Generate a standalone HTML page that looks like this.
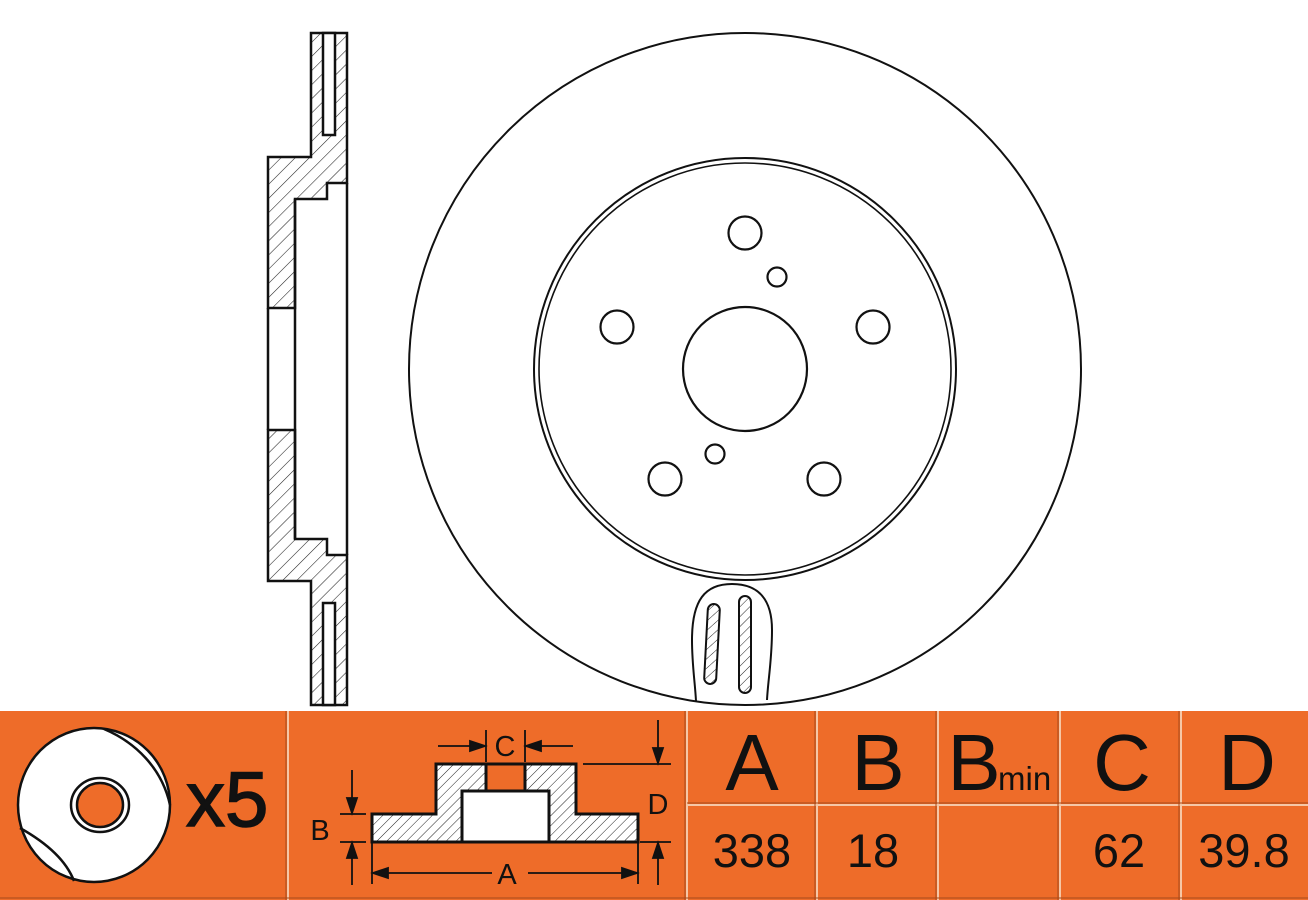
<!DOCTYPE html>
<html><head><meta charset="utf-8"><style>
html,body{margin:0;padding:0;background:#fff;width:1308px;height:900px;overflow:hidden}
svg{display:block}
text{font-family:"Liberation Sans",sans-serif;fill:#111}
</style></head><body>
<svg width="1308" height="900" viewBox="0 0 1308 900" xmlns="http://www.w3.org/2000/svg">
<defs>
<pattern id="h" patternUnits="userSpaceOnUse" width="10" height="10" patternTransform="rotate(45)">
<rect width="10" height="10" fill="#fff"/><line x1="0" y1="0" x2="0" y2="10" stroke="#222" stroke-width="1.1"/>
</pattern>
<pattern id="ho" patternUnits="userSpaceOnUse" width="7" height="7" patternTransform="rotate(45)">
<rect width="7" height="7" fill="#fff"/><line x1="0" y1="0" x2="0" y2="7" stroke="#222" stroke-width="1"/>
</pattern>
</defs>

<!-- side profile -->
<g stroke="#111" stroke-width="2.5" fill="none" stroke-linejoin="miter">
<polygon points="311,33 347,33 347,183 327,183 327,199 295,199 295,308 268,308 268,157 311,157" fill="url(#h)"/>
<polygon points="311,705 347,705 347,555 327,555 327,539 295,539 295,430 268,430 268,581 311,581" fill="url(#h)"/>
<rect x="323" y="33" width="12" height="102" fill="#fff"/>
<rect x="323" y="603" width="12" height="102" fill="#fff"/>
<line x1="347" y1="183" x2="347" y2="555"/>
<line x1="295" y1="199" x2="295" y2="539"/>
<line x1="268" y1="308" x2="268" y2="430"/>
</g>

<!-- disc front -->
<g stroke="#111" fill="none">
<circle cx="745" cy="369" r="336" stroke-width="2"/>
<circle cx="745" cy="369" r="211" stroke-width="2"/>
<circle cx="745" cy="369" r="206" stroke-width="1.6"/>
<circle cx="745" cy="369" r="62" stroke-width="2.2"/>
<circle cx="745" cy="233" r="16.5" stroke-width="2.2"/>
<circle cx="617" cy="327" r="16.5" stroke-width="2.2"/>
<circle cx="873" cy="327" r="16.5" stroke-width="2.2"/>
<circle cx="665" cy="479" r="16.5" stroke-width="2.2"/>
<circle cx="824" cy="479" r="16.5" stroke-width="2.2"/>
<circle cx="777" cy="277" r="9.5" stroke-width="2.2"/>
<circle cx="715" cy="454" r="9.5" stroke-width="2.2"/>
<path d="M696,701 C695,682 692,665 692,640 C692,600 705,584 732,584 C759,584 772,600 772,630 C772,660 768,680 767,700" stroke-width="2"/>
<rect x="706" y="604" width="12" height="80" rx="6" fill="url(#ho)" stroke-width="2" transform="rotate(3 712 644)"/>
<rect x="739" y="596" width="12" height="97" rx="6" fill="url(#ho)" stroke-width="2"/>
</g>

<!-- bottom panel -->
<rect x="0" y="711" width="1308" height="189" fill="#EE6C29"/>
<g stroke="#f6c7a6" stroke-width="2">
<line x1="288" y1="711" x2="288" y2="900"/>
<line x1="687" y1="711" x2="687" y2="900"/>
<line x1="817" y1="711" x2="817" y2="900"/>
<line x1="938" y1="711" x2="938" y2="900"/>
<line x1="1060" y1="711" x2="1060" y2="900"/>
<line x1="1181" y1="711" x2="1181" y2="900"/>
<line x1="687" y1="805" x2="1308" y2="805"/>
</g>
<g stroke="#a64a1a" stroke-width="1">
<line x1="286" y1="711" x2="286" y2="900"/>
<line x1="685" y1="711" x2="685" y2="900"/>
<line x1="815" y1="711" x2="815" y2="900"/>
<line x1="936" y1="711" x2="936" y2="900"/>
<line x1="1058" y1="711" x2="1058" y2="900"/>
<line x1="1179" y1="711" x2="1179" y2="900"/>
<line x1="687" y1="803" x2="1308" y2="803"/>
<line x1="0" y1="898" x2="1308" y2="898"/>
</g>

<!-- pad icon -->
<g stroke="#111" stroke-width="2.5">
<ellipse cx="94" cy="805" rx="76" ry="77" fill="#fff"/>
<path d="M104,729 C135,742 162,768 170,805" fill="none"/>
<path d="M20,828 C45,842 66,860 74,881" fill="none"/>
<ellipse cx="100" cy="805" rx="29" ry="27" fill="#fff"/>
<ellipse cx="100" cy="805" rx="23" ry="22" fill="#EE6C29"/>
</g>
<text x="186" y="826" font-size="78" stroke="#111" stroke-width="1.5">x5</text>

<!-- section diagram -->
<g stroke="#111" stroke-width="3" stroke-linejoin="miter">
<polygon points="372,814 436,814 436,764 576,764 576,814 638,814 638,842 372,842" fill="url(#ho)"/>
<rect x="462" y="791" width="87" height="51" fill="#fff"/>
<rect x="486" y="764" width="39" height="27" fill="#EE6C29"/>
</g>
<g stroke="#111" stroke-width="1.8" fill="#111">
<line x1="486" y1="730" x2="486" y2="762"/>
<line x1="525" y1="730" x2="525" y2="762"/>
<line x1="438" y1="746" x2="472" y2="746"/><polygon points="485,746 470,741 470,751"/>
<line x1="573" y1="746" x2="539" y2="746"/><polygon points="526,746 541,741 541,751"/>
<line x1="658" y1="720" x2="658" y2="750"/><polygon points="658,763 653,748 663,748"/>
<line x1="583" y1="764" x2="671" y2="764"/>
<line x1="640" y1="842" x2="671" y2="842"/>
<line x1="658" y1="885" x2="658" y2="857"/><polygon points="658,843 653,858 663,858"/>
<line x1="352" y1="770" x2="352" y2="800"/><polygon points="352,813 347,798 357,798"/>
<line x1="340" y1="814" x2="366" y2="814"/>
<line x1="340" y1="842" x2="366" y2="842"/>
<line x1="352" y1="885" x2="352" y2="857"/><polygon points="352,843 347,858 357,858"/>
<line x1="372" y1="842" x2="372" y2="884"/>
<line x1="638" y1="842" x2="638" y2="884"/>
<line x1="386" y1="873" x2="492" y2="873"/><polygon points="373,873 388,868 388,878"/>
<line x1="528" y1="873" x2="624" y2="873"/><polygon points="637,873 622,868 622,878"/>
</g>
<text x="505" y="756" font-size="29" text-anchor="middle">C</text>
<text x="658" y="814" font-size="29" text-anchor="middle">D</text>
<text x="320" y="840" font-size="29" text-anchor="middle">B</text>
<text x="507" y="884" font-size="29" text-anchor="middle">A</text>

<!-- table -->
<g font-size="80" text-anchor="middle">
<text x="752" y="790">A</text>
<text x="878" y="790">B</text>
<text x="974" y="790">B</text>
<text x="1122" y="790">C</text>
<text x="1247" y="790">D</text>
</g>
<text x="998" y="790" font-size="33">min</text>
<g font-size="47" text-anchor="middle">
<text x="752" y="867">338</text>
<text x="873" y="867">18</text>
<text x="1119" y="867">62</text>
<text x="1244" y="867">39.8</text>
</g>
</svg>
</body></html>
